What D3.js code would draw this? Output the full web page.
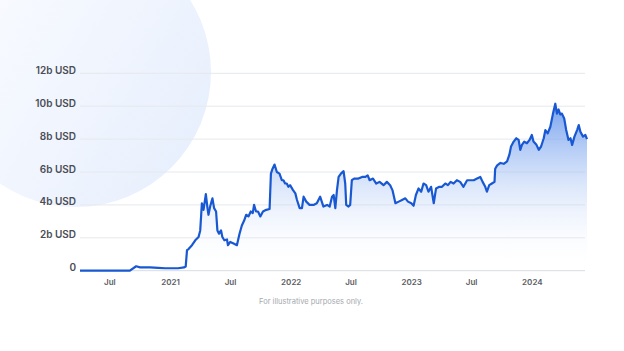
<!DOCTYPE html>
<html>
<head>
<meta charset="utf-8">
<script src="https://cdn.jsdelivr.net/npm/d3@7"></script>
<style>
  html, body { margin: 0; padding: 0; background: #fff; }
  svg { display: block; font-family: Inter, "Noto Sans", sans-serif; }
</style>
</head>
<body>
<div id="chart"></div>
<script>
// values in billions of USD
const dates = [
  '2020-04-03', '2020-09-01', '2020-09-20', '2020-10-02', '2020-11-01', '2020-11-26', '2020-12-17',
  '2021-01-25', '2021-02-12', '2021-02-17', '2021-02-21', '2021-02-25', '2021-03-08', '2021-03-18',
  '2021-03-28', '2021-04-02', '2021-04-07', '2021-04-12', '2021-04-19', '2021-04-24', '2021-04-27',
  '2021-05-02', '2021-05-09', '2021-05-14', '2021-05-20', '2021-05-24', '2021-05-29', '2021-06-04',
  '2021-06-08', '2021-06-14', '2021-06-22', '2021-06-25', '2021-07-02', '2021-07-12', '2021-07-22',
  '2021-07-30', '2021-08-06', '2021-08-13', '2021-08-19', '2021-08-26', '2021-09-02', '2021-09-08',
  '2021-09-12', '2021-09-18', '2021-09-24', '2021-10-01', '2021-10-09', '2021-10-19', '2021-10-29',
  '2021-11-02', '2021-11-07', '2021-11-13', '2021-11-20', '2021-11-28', '2021-12-05', '2021-12-10',
  '2021-12-15', '2021-12-20', '2021-12-25', '2021-12-30', '2022-01-08', '2022-01-15', '2022-01-20',
  '2022-01-28', '2022-02-04', '2022-02-09', '2022-02-17', '2022-02-27', '2022-03-11', '2022-03-21',
  '2022-03-31', '2022-04-10', '2022-04-21', '2022-04-29', '2022-05-06', '2022-05-11', '2022-05-16',
  '2022-05-21', '2022-05-26', '2022-06-02', '2022-06-10', '2022-06-15', '2022-06-18', '2022-06-25',
  '2022-06-30', '2022-07-05', '2022-07-12', '2022-07-25', '2022-08-05', '2022-08-15', '2022-08-22',
  '2022-08-28', '2022-09-07', '2022-09-17', '2022-09-27', '2022-10-09', '2022-10-19', '2022-10-29',
  '2022-11-05', '2022-11-14', '2022-11-24', '2022-12-04', '2022-12-14', '2022-12-22', '2023-01-01',
  '2023-01-08', '2023-01-15', '2023-01-23', '2023-01-31', '2023-02-07', '2023-02-15', '2023-02-22',
  '2023-03-02', '2023-03-10', '2023-03-17', '2023-03-27', '2023-04-04', '2023-04-14', '2023-04-22',
  '2023-04-30', '2023-05-09', '2023-05-19', '2023-05-29', '2023-06-08', '2023-06-19', '2023-06-29',
  '2023-07-09', '2023-07-19', '2023-07-29', '2023-08-05', '2023-08-13', '2023-08-18', '2023-08-25',
  '2023-09-02', '2023-09-10', '2023-09-12', '2023-09-18', '2023-09-28', '2023-10-08', '2023-10-18',
  '2023-10-25', '2023-10-30', '2023-11-07', '2023-11-15', '2023-11-22', '2023-11-27', '2023-12-02',
  '2023-12-09', '2023-12-17', '2023-12-25', '2024-01-01', '2024-01-06', '2024-01-15', '2024-01-22',
  '2024-01-29', '2024-02-06', '2024-02-11', '2024-02-18', '2024-02-26', '2024-03-05', '2024-03-12',
  '2024-03-17', '2024-03-22', '2024-03-27', '2024-04-01', '2024-04-08', '2024-04-14', '2024-04-21',
  '2024-04-27', '2024-05-02', '2024-05-09', '2024-05-17', '2024-05-22', '2024-05-27', '2024-06-04',
  '2024-06-11', '2024-06-16'
];

const values = [
  0, 0, 0.27, 0.2, 0.2, 0.17, 0.15,
  0.15, 0.2, 0.25, 1.25, 1.3, 1.55, 1.85,
  2.05, 2.45, 4.1, 3.7, 4.65, 3.8, 3.4,
  3.9, 4.4, 3.8, 3.6, 2.45, 2.25, 2.45,
  2.05, 1.85, 1.9, 1.55, 1.75, 1.65, 1.55,
  2.25, 2.75, 3.05, 3.4, 3.3, 3.6, 3.5,
  4.0, 3.6, 3.6, 3.3, 3.6, 3.7, 3.75,
  5.9, 6.2, 6.45, 6.0, 5.9, 5.5, 5.5,
  5.3, 5.3, 5.1, 5.2, 4.9, 4.7, 4.3,
  3.8, 3.8, 4.5, 4.2, 4.0, 4.0, 4.1,
  4.5, 3.9, 4.0, 3.9, 4.5, 4.6, 3.8,
  4.9, 5.7, 5.9, 6.05, 5.3, 4.0, 3.9,
  4.0, 5.5, 5.6, 5.6, 5.7, 5.7, 5.8,
  5.5, 5.6, 5.3, 5.4, 5.2, 5.4, 5.2,
  4.9, 4.1, 4.2, 4.3, 4.4, 4.2, 4.1,
  3.95, 4.6, 5.0, 4.8, 5.3, 5.2, 4.8,
  5.1, 4.1, 5.0, 5.1, 5.1, 5.3, 5.2,
  5.4, 5.3, 5.5, 5.4, 5.1, 5.5, 5.5,
  5.5, 5.6, 5.7, 5.4, 5.1, 4.8, 5.2,
  5.3, 5.4, 6.2, 6.4, 6.55, 6.5, 6.65,
  7.05, 7.55, 7.85, 8.05, 7.95, 7.35, 7.65,
  7.85, 7.75, 7.95, 8.25, 7.85, 7.65, 7.35,
  7.55, 8.05, 8.55, 8.35, 8.75, 9.55, 10.15,
  9.55, 9.8, 9.5, 9.55, 9.25, 8.55, 7.95,
  8.05, 7.65, 8.15, 8.55, 8.85, 8.45, 8.15,
  8.25, 8.0
];

const yTicks = [0, 2, 4, 6, 8, 10, 12];
const footnote = 'For illustrative purposes only.';

const W = 624, H = 351;
const margin = { left: 80, right: 37, top: 73.3, bottom: 80.3 };

const parse = d3.timeParse('%Y-%m-%d');
const data = dates.map((d, i) => ({ date: parse(d), value: values[i] }));

const svg = d3.select('#chart').append('svg')
  .attr('width', W)
  .attr('height', H);

const defs = svg.append('defs');

// soft background circle
const bg = defs.append('linearGradient')
  .attr('id', 'bgGrad')
  .attr('x1', '0%').attr('y1', '20%')
  .attr('x2', '100%').attr('y2', '80%');
bg.append('stop').attr('offset', '0%').attr('stop-color', '#fbfcff');
bg.append('stop').attr('offset', '100%').attr('stop-color', '#e7effd');

svg.append('circle')
  .attr('cx', 76)
  .attr('cy', 72)
  .attr('r', 135)
  .attr('fill', 'url(#bgGrad)');

const x = d3.scaleTime()
  .domain(d3.extent(data, d => d.date))
  .range([margin.left, W - margin.right]);

const y = d3.scaleLinear()
  .domain([0, 12])
  .range([H - margin.bottom, margin.top]);

const areaGrad = defs.append('linearGradient')
  .attr('id', 'areaGrad')
  .attr('gradientUnits', 'userSpaceOnUse')
  .attr('x1', 0).attr('y1', y(10.2))
  .attr('x2', 0).attr('y2', y(0));
areaGrad.append('stop').attr('offset', '0%').attr('stop-color', '#6596ec').attr('stop-opacity', 0.9);
areaGrad.append('stop').attr('offset', '100%').attr('stop-color', '#ffffff').attr('stop-opacity', 0);

// grid + y labels
const grid = svg.append('g').attr('class', 'grid');
grid.selectAll('line')
  .data(yTicks)
  .join('line')
  .attr('x1', margin.left)
  .attr('x2', W - margin.right - 2)
  .attr('y1', d => y(d))
  .attr('y2', d => y(d))
  .attr('stroke', d => d === 0 ? '#d9dce1' : '#e6e8ec')
  .attr('stroke-width', 1);

grid.selectAll('text')
  .data(yTicks)
  .join('text')
  .attr('x', 76)
  .attr('y', d => y(d) + 0.5)
  .attr('text-anchor', 'end')
  .attr('font-size', 10)
  .attr('font-weight', 600)
  .attr('fill', '#4a4d55')
  .text(d => d === 0 ? '0' : `${d}b USD`);

// area + line
svg.append('path')
  .datum(data)
  .attr('fill', 'url(#areaGrad)')
  .attr('d', d3.area()
    .x(d => x(d.date))
    .y0(y(0))
    .y1(d => y(d.value)));

svg.append('path')
  .datum(data)
  .attr('fill', 'none')
  .attr('stroke', '#1858d2')
  .attr('stroke-width', 2.2)
  .attr('stroke-linejoin', 'round')
  .attr('d', d3.line()
    .x(d => x(d.date))
    .y(d => y(d.value)));

// x axis labels
const fmt = d => d.getMonth() === 0 ? d3.timeFormat('%Y')(d) : d3.timeFormat('%b')(d);
const xAxis = svg.append('g')
  .attr('transform', `translate(0, ${y(0)})`)
  .call(d3.axisBottom(x)
    .ticks(d3.timeMonth.every(6))
    .tickSize(0)
    .tickPadding(9)
    .tickFormat(fmt));
xAxis.select('.domain').remove();
xAxis.selectAll('text')
  .attr('font-family', 'Inter, "Noto Sans", sans-serif')
  .attr('font-size', 8)
  .attr('font-weight', 600)
  .attr('fill', '#5a5d64');

svg.append('text')
  .attr('x', 311)
  .attr('y', 304)
  .attr('text-anchor', 'middle')
  .attr('font-size', 7.5)
  .attr('fill', '#a6a9ae')
  .text(footnote);
</script>
</body>
</html>
